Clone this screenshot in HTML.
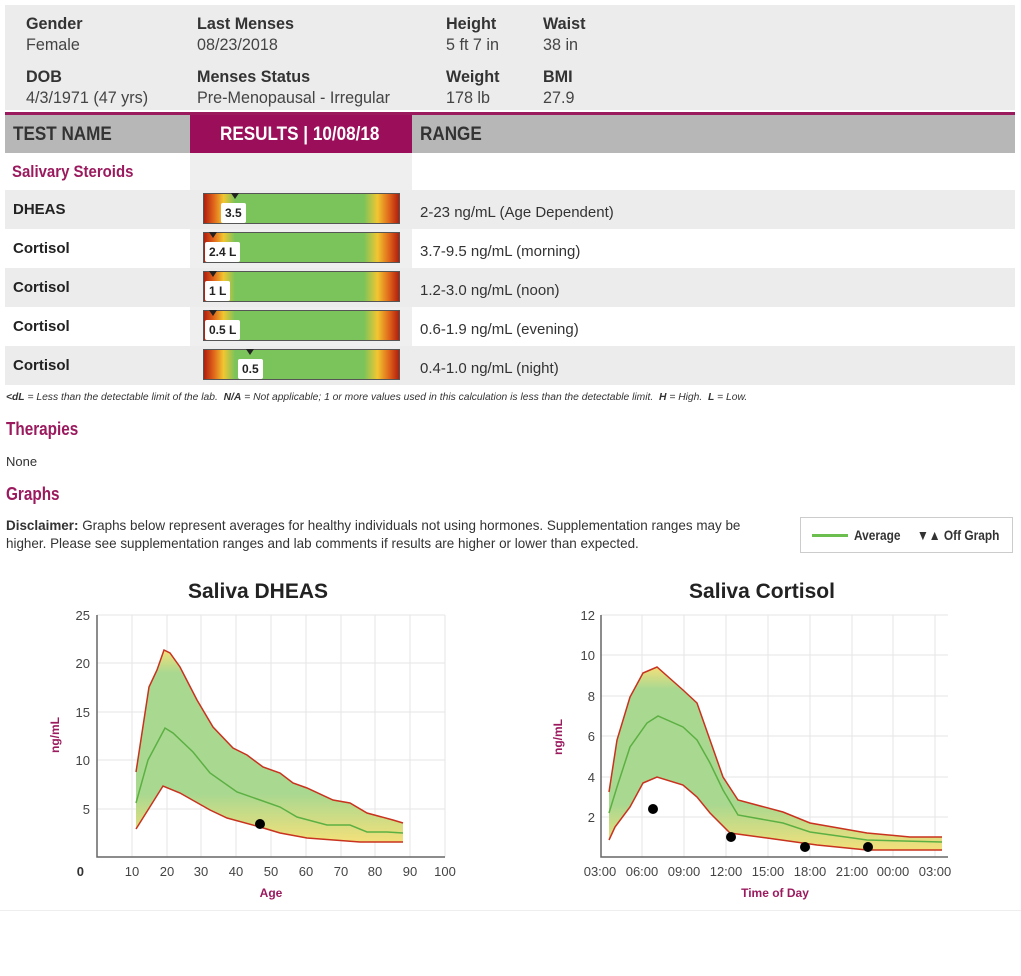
<!DOCTYPE html>
<html><head><meta charset="utf-8"><style>
body{margin:0;width:1021px;height:976px;background:#fff;font-family:"Liberation Sans",sans-serif;position:relative;overflow:hidden;color:#333}
.a{position:absolute;white-space:nowrap}
.b{font-weight:bold;font-size:17px;color:#333;transform:scaleX(.95);transform-origin:left}
.v{font-size:17px;color:#444;transform:scaleX(.95);transform-origin:left}
.row{position:absolute;left:5px;width:1010px;height:39px}
.tn{position:absolute;left:8px;top:11px;font-weight:bold;font-size:15px;color:#222}
.rg{position:absolute;left:415px;top:14px;font-size:15px;color:#333}
.bar{position:absolute;left:198px;top:3px;width:195px;height:29px;border:1px solid #555;background:linear-gradient(90deg,#b01e0e 0%,#e0651a 5%,#f1c631 10%,#7bc35b 16%,#7bc35b 82%,#f1c631 89%,#e0651a 95%,#b01e0e 100%)}
.mk{position:absolute;top:-1px;width:0;height:0;border-left:4px solid transparent;border-right:4px solid transparent;border-top:6px solid #222}
.lb{position:absolute;top:9px;background:#fff;border-radius:2px;font-weight:bold;font-size:12px;padding:3px 4px;color:#222}
.h2{position:absolute;left:6px;font-size:18px;font-weight:bold;color:#9b1a5e;transform:scaleX(0.85);transform-origin:left}
</style></head><body>
<div class="a" style="left:5px;top:5px;width:1010px;height:105px;background:#ececec"></div>
<div class="a b" style="left:26px;top:14px">Gender</div><div class="a v" style="left:26px;top:35px">Female</div>
<div class="a b" style="left:26px;top:67px">DOB</div><div class="a v" style="left:26px;top:88px">4/3/1971 (47 yrs)</div>
<div class="a b" style="left:197px;top:14px">Last Menses</div><div class="a v" style="left:197px;top:35px">08/23/2018</div>
<div class="a b" style="left:197px;top:67px">Menses Status</div><div class="a v" style="left:197px;top:88px">Pre-Menopausal - Irregular</div>
<div class="a b" style="left:446px;top:14px">Height</div><div class="a v" style="left:446px;top:35px">5 ft 7 in</div>
<div class="a b" style="left:446px;top:67px">Weight</div><div class="a v" style="left:446px;top:88px">178 lb</div>
<div class="a b" style="left:543px;top:14px">Waist</div><div class="a v" style="left:543px;top:35px">38 in</div>
<div class="a b" style="left:543px;top:67px">BMI</div><div class="a v" style="left:543px;top:88px">27.9</div>
<div class="a" style="left:5px;top:112px;width:1010px;height:3px;background:#9b1a5e"></div>
<div class="a" style="left:5px;top:115px;width:1010px;height:38px;background:#b7b7b7"></div>
<div class="a" style="left:190px;top:115px;width:222px;height:38px;background:#9b0f5a"></div>
<div class="a" style="left:190px;top:153px;width:222px;height:232px;background:#efefef"></div>
<div class="a" style="left:13px;top:124px;font-size:19px;font-weight:bold;color:#333;transform:scaleX(.9);transform-origin:left">TEST NAME</div>
<div class="a" style="left:220px;top:124px;font-size:19px;font-weight:bold;color:#fff;transform:scaleX(.9);transform-origin:left">RESULTS | 10/08/18</div>
<div class="a" style="left:420px;top:124px;font-size:19px;font-weight:bold;color:#333;transform:scaleX(.9);transform-origin:left">RANGE</div>
<div class="a" style="left:12px;top:162px;font-size:17px;font-weight:bold;color:#9b1a5e;transform:scaleX(.88);transform-origin:left">Salivary Steroids</div>

<div class="row" style="top:190px;background:#ececec"><div class="tn">DHEAS</div><div class="bar"><div class="mk" style="left:27px"></div><div class="lb" style="left:17px">3.5</div></div><div class="rg">2-23 ng/mL (Age Dependent)</div></div>
<div class="row" style="top:229px"><div class="tn">Cortisol</div><div class="bar" style="background-color:#fff"><div class="mk" style="left:5px"></div><div class="lb" style="left:1px">2.4 L</div></div><div class="rg">3.7-9.5 ng/mL (morning)</div></div>
<div class="row" style="top:268px;background:#ececec"><div class="tn">Cortisol</div><div class="bar"><div class="mk" style="left:5px"></div><div class="lb" style="left:1px">1 L</div></div><div class="rg">1.2-3.0 ng/mL (noon)</div></div>
<div class="row" style="top:307px"><div class="tn">Cortisol</div><div class="bar"><div class="mk" style="left:5px"></div><div class="lb" style="left:1px">0.5 L</div></div><div class="rg">0.6-1.9 ng/mL (evening)</div></div>
<div class="row" style="top:346px;background:#ececec"><div class="tn">Cortisol</div><div class="bar"><div class="mk" style="left:42px"></div><div class="lb" style="left:34px">0.5</div></div><div class="rg">0.4-1.0 ng/mL (night)</div></div>

<div class="a" style="left:6px;top:392px;font-size:10px;font-style:italic;color:#333;transform:scaleX(1.03);transform-origin:left"><b>&lt;dL</b> = Less than the detectable limit of the lab. &nbsp;<b>N/A</b> = Not applicable; 1 or more values used in this calculation is less than the detectable limit. &nbsp;<b>H</b> = High. &nbsp;<b>L</b> = Low.</div>
<div class="h2" style="top:419px">Therapies</div>
<div class="a" style="left:6px;top:454px;font-size:13px;color:#333">None</div>
<div class="h2" style="top:484px">Graphs</div>
<div class="a" style="left:6px;top:516px;font-size:14px;line-height:18px;color:#333;transform:scaleX(.96);transform-origin:left"><b>Disclaimer:</b> Graphs below represent averages for healthy individuals not using hormones. Supplementation ranges may be<br>higher. Please see supplementation ranges and lab comments if results are higher or lower than expected.</div>
<div class="a" style="left:800px;top:517px;width:211px;height:34px;border:1px solid #ccc"></div>
<div class="a" style="left:812px;top:534px;width:36px;height:3px;background:#6cbf4f"></div>
<div class="a" style="left:854px;top:527px;font-size:14px;font-weight:bold;color:#333;transform:scaleX(.85);transform-origin:left">Average</div>
<div class="a" style="left:917px;top:527px;font-size:14px;font-weight:bold;color:#333;transform:scaleX(.85);transform-origin:left">▼▲ Off Graph</div>
<div class="a" style="left:0;top:910px;width:1021px;height:1px;background:#eee"></div>

<svg class="a" style="left:0;top:0" width="1021" height="976" font-family="Liberation Sans, sans-serif">
<defs>
<linearGradient id="g1" x1="0" y1="0" x2="0" y2="1"><stop offset="0" stop-color="#f3e07a"/><stop offset=".12" stop-color="#a9d890"/><stop offset=".75" stop-color="#a9d890"/><stop offset="1" stop-color="#f3e07a"/></linearGradient>
</defs>
<text x="258" y="598" font-size="21" font-weight="bold" fill="#222" text-anchor="middle">Saliva DHEAS</text>
<g stroke="#e6e6e6" stroke-width="1">
<line x1="97" y1="615" x2="445" y2="615"/><line x1="97" y1="663" x2="445" y2="663"/><line x1="97" y1="712" x2="445" y2="712"/><line x1="97" y1="760" x2="445" y2="760"/><line x1="97" y1="809" x2="445" y2="809"/>
<line x1="132" y1="615" x2="132" y2="857"/><line x1="167" y1="615" x2="167" y2="857"/><line x1="201" y1="615" x2="201" y2="857"/><line x1="236" y1="615" x2="236" y2="857"/><line x1="271" y1="615" x2="271" y2="857"/><line x1="306" y1="615" x2="306" y2="857"/><line x1="341" y1="615" x2="341" y2="857"/><line x1="375" y1="615" x2="375" y2="857"/><line x1="410" y1="615" x2="410" y2="857"/><line x1="445" y1="615" x2="445" y2="857"/>
</g>
<polygon fill="url(#g1)" points="136,772 149,687 157,670 164,650 170,653 180,667 197,700 213,727 233,748 247,755 263,767 280,773 293,783 307,788 333,800 350,803 367,813 393,820 403,823 403,842 360,842 307,838 280,833 260,827 227,818 210,810 180,793 163,786 136,829"/>
<g fill="none" stroke="#c8321e" stroke-width="1.5">
<polyline points="136,772 149,687 157,670 164,650 170,653 180,667 197,700 213,727 233,748 247,755 263,767 280,773 293,783 307,788 333,800 350,803 367,813 393,820 403,823"/>
<polyline points="136,829 163,786 180,793 210,810 227,818 260,827 280,833 307,838 360,842 403,842"/>
</g>
<polyline fill="none" stroke="#5cb043" stroke-width="1.5" points="136,803 148,760 165,728 173,733 193,752 210,773 237,792 260,800 280,807 297,817 327,825 350,825 367,832 387,832 403,833"/>
<circle cx="260" cy="824" r="5" fill="#000"/>
<path d="M97 615V857H445" fill="none" stroke="#666" stroke-width="1.5"/>
<g font-size="13" fill="#444" text-anchor="end"><text x="90" y="620">25</text><text x="90" y="668">20</text><text x="90" y="717">15</text><text x="90" y="765">10</text><text x="90" y="814">5</text></g>
<text x="84" y="876" font-size="13" font-weight="bold" fill="#333" text-anchor="end">0</text>
<g font-size="13" fill="#444" text-anchor="middle"><text x="132" y="876">10</text><text x="167" y="876">20</text><text x="201" y="876">30</text><text x="236" y="876">40</text><text x="271" y="876">50</text><text x="306" y="876">60</text><text x="341" y="876">70</text><text x="375" y="876">80</text><text x="410" y="876">90</text><text x="445" y="876">100</text></g>
<text x="271" y="897" font-size="12" font-weight="bold" fill="#9b1a5e" text-anchor="middle">Age</text>
<text transform="translate(59,735) rotate(-90)" font-size="12" font-weight="bold" fill="#9b1a5e" text-anchor="middle">ng/mL</text>

<text x="762" y="598" font-size="21" font-weight="bold" fill="#222" text-anchor="middle">Saliva Cortisol</text>
<g stroke="#e6e6e6" stroke-width="1">
<line x1="601" y1="615" x2="948" y2="615"/><line x1="601" y1="655" x2="948" y2="655"/><line x1="601" y1="696" x2="948" y2="696"/><line x1="601" y1="736" x2="948" y2="736"/><line x1="601" y1="777" x2="948" y2="777"/><line x1="601" y1="817" x2="948" y2="817"/>
<line x1="642" y1="615" x2="642" y2="857"/><line x1="684" y1="615" x2="684" y2="857"/><line x1="726" y1="615" x2="726" y2="857"/><line x1="768" y1="615" x2="768" y2="857"/><line x1="810" y1="615" x2="810" y2="857"/><line x1="852" y1="615" x2="852" y2="857"/><line x1="893" y1="615" x2="893" y2="857"/><line x1="935" y1="615" x2="935" y2="857"/>
</g>
<polygon fill="url(#g1)" points="609,792 617,740 630,697 643,673 657,667 683,690 697,703 710,740 723,777 738,800 783,812 810,823 867,833 910,837 942,837 942,850 867,850 817,845 767,838 730,833 710,813 697,797 683,785 657,777 643,783 630,807 615,827 609,840"/>
<g fill="none" stroke="#c8321e" stroke-width="1.5">
<polyline points="609,792 617,740 630,697 643,673 657,667 683,690 697,703 710,740 723,777 738,800 783,812 810,823 867,833 910,837 942,837"/>
<polyline points="609,840 615,827 630,807 643,783 657,777 683,785 697,797 710,813 730,833 767,838 817,845 867,850 942,850"/>
</g>
<polyline fill="none" stroke="#5cb043" stroke-width="1.5" points="609,813 617,787 630,747 647,723 658,716 683,727 697,740 710,763 723,790 738,815 783,823 810,832 867,840 942,842"/>
<g fill="#000"><circle cx="653" cy="809" r="5"/><circle cx="731" cy="837" r="5"/><circle cx="805" cy="847" r="5"/><circle cx="868" cy="847" r="5"/></g>
<path d="M601 615V857H948" fill="none" stroke="#666" stroke-width="1.5"/>
<g font-size="13" fill="#444" text-anchor="end"><text x="595" y="620">12</text><text x="595" y="660">10</text><text x="595" y="701">8</text><text x="595" y="741">6</text><text x="595" y="782">4</text><text x="595" y="822">2</text></g>
<g font-size="13" fill="#444" text-anchor="middle"><text x="600" y="876">03:00</text><text x="642" y="876">06:00</text><text x="684" y="876">09:00</text><text x="726" y="876">12:00</text><text x="768" y="876">15:00</text><text x="810" y="876">18:00</text><text x="852" y="876">21:00</text><text x="893" y="876">00:00</text><text x="935" y="876">03:00</text></g>
<text x="775" y="897" font-size="12" font-weight="bold" fill="#9b1a5e" text-anchor="middle">Time of Day</text>
<text transform="translate(562,737) rotate(-90)" font-size="12" font-weight="bold" fill="#9b1a5e" text-anchor="middle">ng/mL</text>
</svg>
</body></html>
